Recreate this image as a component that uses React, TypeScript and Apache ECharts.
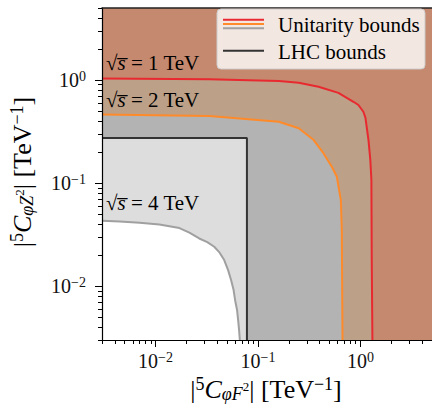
import React, { useEffect, useRef } from "react";
import * as echarts from "echarts";

// ---- axis ranges ----
const X_MIN = 0.003;
const X_MAX = 5;
const Y_MIN = 0.003;
const Y_MAX = 5;

// ---- tick values ----
const majorTicks = [0.01, 0.1, 1];
const minorTicks = [
  0.003, 0.004, 0.005, 0.006, 0.007, 0.008, 0.009,
  0.02, 0.03, 0.04, 0.05, 0.06, 0.07, 0.08, 0.09,
  0.2, 0.3, 0.4, 0.5, 0.6, 0.7, 0.8, 0.9,
  2, 3, 4, 5,
];

// ---- unitarity bound curves ----
const red1TeVX = [0.003, 0.0334, 0.16, 0.25, 0.39, 0.61, 0.855, 0.956, 1.069, 1.12, 1.2, 1.25, 1.28, 1.29, 1.31];
const red1TeVY = [1.035, 1.02, 0.98, 0.94, 0.86, 0.75, 0.615, 0.572, 0.492, 0.43, 0.26, 0.167, 0.107, 0.018, 0.003];

const orange2TeVX = [0.003, 0.0334, 0.16, 0.25, 0.35, 0.437, 0.526, 0.589, 0.644, 0.658, 0.669];
const orange2TeVY = [0.4625, 0.447, 0.394, 0.34, 0.2616, 0.194, 0.144, 0.115, 0.0684, 0.035, 0.003];

const gray4TeVX = [0.003, 0.00447, 0.007, 0.0109, 0.0171, 0.0214, 0.0267, 0.032, 0.0374, 0.0418, 0.0468, 0.0511, 0.0547, 0.0578, 0.0598, 0.0625, 0.064, 0.0654, 0.0665];
const gray4TeVY = [0.043, 0.0423, 0.0412, 0.0397, 0.0366, 0.0331, 0.029, 0.02675, 0.0241, 0.0214, 0.0179, 0.0143, 0.0114, 0.00915, 0.0073, 0.00585, 0.00468, 0.00374, 0.003];

// ---- LHC bound box ----
const lhcX = [0.003, 0.078, 0.078];
const lhcY = [0.274, 0.274, 0.003];

// ---- texts ----
const legendLabels = ["Unitarity bounds", "LHC bounds"];
const energyLabels = ["1", "2", "4"];

const FONT = "Liberation Serif, DejaVu Serif, serif";
const INK = "#111111";

const C_BROWN = "#c4896f";
const C_TAN = "#bda088";
const C_DGRAY = "#b3b3b3";
const C_LGRAY = "#dddddd";
const C_WHITE = "#ffffff";
const C_RED = "#e8292f";
const C_ORANGE = "#ff8a2a";
const C_GRAYLINE = "#a0a0a0";
const C_LHC = "#333333";

const rich: any = {
  b: { fontFamily: FONT, fontSize: 20, lineHeight: 22, color: INK },
  s: { fontFamily: FONT, fontSize: 14, lineHeight: 14, verticalAlign: "top", color: INK },
  L: { fontFamily: FONT, fontSize: 21, lineHeight: 24, color: INK },
  Li: { fontFamily: FONT, fontStyle: "italic", fontSize: 21, lineHeight: 24, color: INK },
};

const richTitle: any = {
  b: { fontFamily: FONT, fontSize: 26, lineHeight: 28, color: INK },
  s: { fontFamily: FONT, fontSize: 18, lineHeight: 16, verticalAlign: "top", color: INK },
  i: { fontFamily: FONT, fontStyle: "italic", fontSize: 26, lineHeight: 28, color: INK },
  sub: { fontFamily: FONT, fontStyle: "italic", fontSize: 18, lineHeight: 16, verticalAlign: "bottom", color: INK },
  ss: { fontFamily: FONT, fontSize: 13, lineHeight: 12, verticalAlign: "bottom", padding: [0, 0, 10, 0], color: INK },
};

function zip(xs: number[], ys: number[]) {
  return xs.map((x, i) => [x, ys[i]]);
}

function fillSeries(xs: number[], ys: number[], color: string) {
  const pts = zip(xs, ys);
  return {
    type: "custom",
    xAxisIndex: 0,
    yAxisIndex: 0,
    silent: true,
    z: 1,
    data: pts,
    renderItem: (params: any, api: any) => {
      if (params.dataIndex !== 0) return null;
      const poly = pts.map((p) => api.coord(p));
      poly.push(api.coord([X_MIN, Y_MIN]));
      return { type: "polygon", shape: { points: poly }, style: { fill: color } };
    },
  };
}

function lineSeries(xs: number[], ys: number[], color: string, width: number) {
  return {
    type: "line",
    xAxisIndex: 0,
    yAxisIndex: 0,
    data: zip(xs, ys),
    showSymbol: false,
    symbol: "none",
    silent: true,
    z: 3,
    lineStyle: { color, width },
  };
}

const tickFormatter = (v: number) => {
  const e = Math.round(Math.log10(v));
  return `{b|10}{s|${e < 0 ? "\u2212" + -e : e}}`;
};

function baseAxis(extra: any) {
  return {
    type: "log",
    logBase: 10,
    splitLine: { show: false },
    ...extra,
  };
}

export default function App() {
  const ref = useRef<HTMLDivElement>(null);
  useEffect(() => {
    if (!ref.current) return;
    const chart = echarts.init(ref.current, null, { renderer: "svg" });
    const majorLabel = {
      show: true,
      customValues: majorTicks,
      formatter: tickFormatter,
      rich,
      color: INK,
      fontFamily: FONT,
    };
    const option: any = {
      animation: false,
      textStyle: { fontFamily: FONT },
      grid: {
        left: 102,
        top: 8,
        width: 332,
        height: 332,
        show: true,
        backgroundColor: C_BROWN,
        borderWidth: 0,
      },
      xAxis: [
        baseAxis({
          min: X_MIN, max: X_MAX, position: "bottom", z: 10,
          axisLine: { show: true, lineStyle: { color: "#000", width: 1.2 } },
          axisTick: { show: true, customValues: majorTicks, length: 7, lineStyle: { color: "#000", width: 1 } },
          axisLabel: { ...majorLabel, margin: 10 },
        }),
        baseAxis({
          min: X_MIN, max: X_MAX, position: "bottom", z: 10,
          axisLine: { show: false },
          axisTick: { show: true, customValues: minorTicks, length: 4, lineStyle: { color: "#000", width: 1 } },
          axisLabel: { show: false },
        }),
        baseAxis({
          min: X_MIN, max: X_MAX, position: "top", z: 10,
          axisLine: { show: true, lineStyle: { color: "#222", width: 1.5 } },
          axisTick: { show: false },
          axisLabel: { show: false },
        }),
      ],
      yAxis: [
        baseAxis({
          min: Y_MIN, max: Y_MAX, position: "left", z: 10,
          axisLine: { show: true, lineStyle: { color: "#000", width: 1.2 } },
          axisTick: { show: true, customValues: majorTicks, length: 7, lineStyle: { color: "#000", width: 1 } },
          axisLabel: { ...majorLabel, margin: 16 },
        }),
        baseAxis({
          min: Y_MIN, max: Y_MAX, position: "left", z: 10,
          axisLine: { show: false },
          axisTick: { show: true, customValues: minorTicks, length: 4, lineStyle: { color: "#000", width: 1 } },
          axisLabel: { show: false },
        }),
      ],
      series: [
        fillSeries(red1TeVX, red1TeVY, C_TAN),
        fillSeries(orange2TeVX, orange2TeVY, C_DGRAY),
        fillSeries(lhcX.concat([X_MIN]), lhcY.concat([Y_MIN]), C_LGRAY),
        fillSeries(gray4TeVX, gray4TeVY, C_WHITE),
        lineSeries(red1TeVX, red1TeVY, C_RED, 2),
        lineSeries(orange2TeVX, orange2TeVY, C_ORANGE, 2),
        lineSeries(gray4TeVX, gray4TeVY, C_GRAYLINE, 2),
        lineSeries(lhcX, lhcY, C_LHC, 2),
      ],
      graphic: [
        // legend
        {
          type: "rect", z: 20,
          shape: { x: 217, y: 9, width: 208, height: 60, r: 4 },
          style: { fill: "rgba(255,255,255,0.8)", stroke: "#cccccc", lineWidth: 1 },
        },
        { type: "line", z: 21, shape: { x1: 223, y1: 19.7, x2: 264, y2: 19.7 }, style: { stroke: C_RED, lineWidth: 2 } },
        { type: "line", z: 21, shape: { x1: 223, y1: 24, x2: 264, y2: 24 }, style: { stroke: C_ORANGE, lineWidth: 2 } },
        { type: "line", z: 21, shape: { x1: 223, y1: 28.3, x2: 264, y2: 28.3 }, style: { stroke: C_GRAYLINE, lineWidth: 2 } },
        { type: "line", z: 21, shape: { x1: 223, y1: 50.7, x2: 264, y2: 50.7 }, style: { stroke: C_LHC, lineWidth: 2 } },
        {
          type: "text", z: 21, x: 278, y: 25,
          style: { text: `{L|${legendLabels[0]}}`, rich, verticalAlign: "middle", align: "left" },
        },
        {
          type: "text", z: 21, x: 278, y: 52,
          style: { text: `{L|${legendLabels[1]}}`, rich, verticalAlign: "middle", align: "left" },
        },
        // energy annotations
        ...[63, 100, 203].map((yy, k) => ({
          type: "text", z: 21, x: 106, y: yy,
          style: {
            text: `{L|\u221a}{Li|s\u0305}{L| = ${energyLabels[k]} TeV}`,
            rich,
            verticalAlign: "middle",
            align: "left",
          },
        })),
        // axis titles
        {
          type: "text", z: 21, x: 266, y: 389,
          style: {
            text: "{b||}{s|5}{i|C}{sub|\u03c6F}{ss|2}{b|| [TeV}{s|\u22121}{b|]}",
            rich: richTitle,
            align: "center",
            verticalAlign: "middle",
          },
        },
        {
          type: "text", z: 21, x: 22, y: 172, rotation: Math.PI / 2,
          style: {
            text: "{b||}{s|5}{i|C}{sub|\u03c6Z}{ss|2}{b|| [TeV}{s|\u22121}{b|]}",
            rich: richTitle,
            align: "center",
            verticalAlign: "middle",
          },
        },
      ],
    };
    chart.setOption(option);
    return () => chart.dispose();
  }, []);
  return (
    <div
      ref={ref}
      style={{ position: "absolute", left: 0, top: 0, width: 432, height: 408 }}
    />
  );
}
